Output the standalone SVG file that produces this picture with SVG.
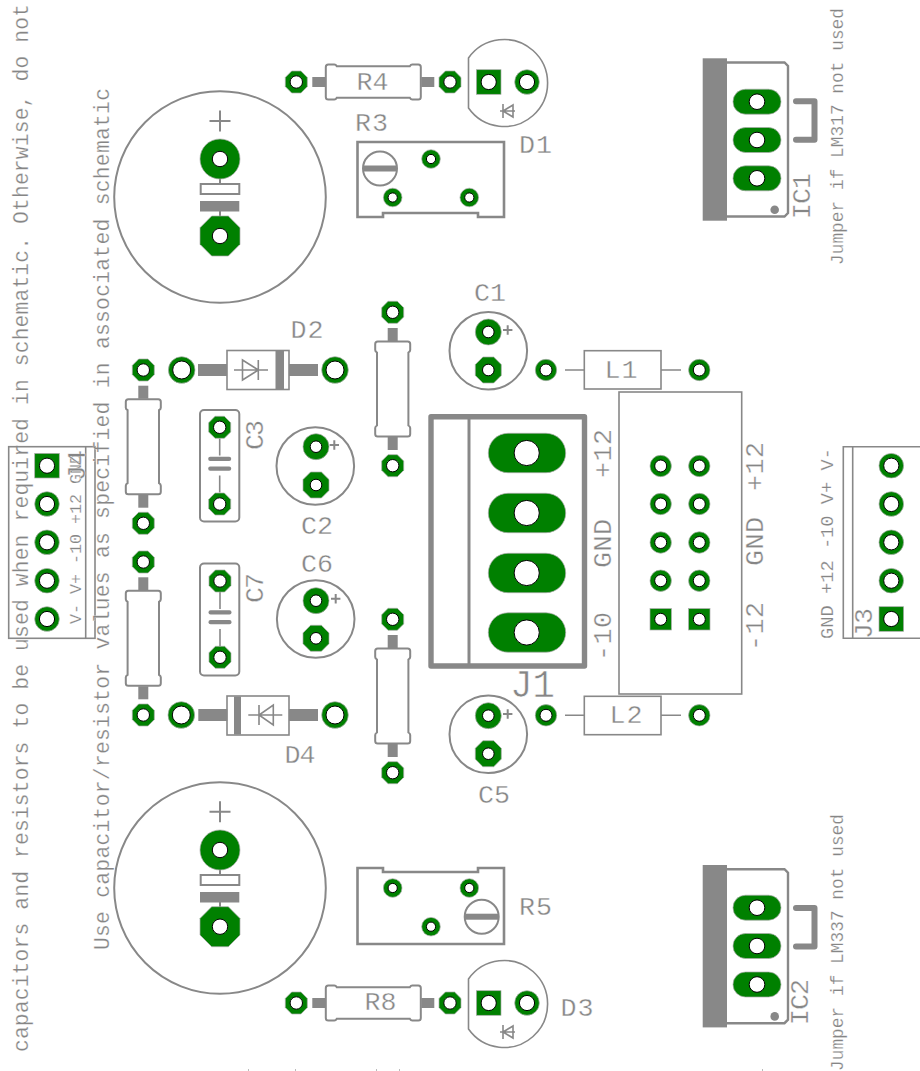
<svg xmlns="http://www.w3.org/2000/svg" width="920" height="1071" viewBox="0 0 920 1071">
<style>
text{font-family:"Liberation Mono","DejaVu Sans Mono",monospace;fill:#868686;font-size:26.7px;stroke:#fff;stroke-width:.35}
.s{font-size:17.8px;stroke-width:.2}.m{font-size:21.4px;stroke-width:.25}
.l{fill:none;stroke:#888;stroke-width:2}
.t{fill:none;stroke:#888;stroke-width:1.6}
.k{fill:none;stroke:#888;stroke-width:5}
.f{fill:#888}
.g{fill:#008000;stroke:#aaa;stroke-width:.7}
.h{fill:#fff;stroke:#000;stroke-width:1}
</style>
<defs>
<g id="o11"><polygon class="g" points="-11,-4.6 -4.6,-11 4.6,-11 11,-4.6 11,4.6 4.6,11 -4.6,11 -11,4.6"/><circle class="h" r="6.2"/></g>
<g id="o13"><polygon class="g" points="-13,-5.4 -5.4,-13 5.4,-13 13,-5.4 13,5.4 5.4,13 -5.4,13 -13,5.4"/><circle class="h" r="5.8"/></g>
<g id="o20"><polygon class="g" points="-20,-8.3 -8.3,-20 8.3,-20 20,-8.3 20,8.3 8.3,20 -8.3,20 -20,8.3"/><circle class="h" r="7.7"/></g>
<g id="r11"><circle class="g" r="10.7"/><circle class="h" r="6"/></g>
<g id="r12"><circle class="g" r="12.3"/><circle class="h" r="7.6"/></g>
<g id="r13"><circle class="g" r="13.3"/><circle class="h" r="9"/></g>
<g id="r13c"><circle class="g" r="13"/><circle class="h" r="5.8"/></g>
<g id="r20"><circle class="g" r="20"/><circle class="h" r="7.7"/></g>
<g id="s11"><rect class="g" x="-10.7" y="-10.7" width="21.4" height="21.4"/><circle class="h" r="6"/></g>
<g id="s12"><rect class="g" x="-12.3" y="-12.3" width="24.6" height="24.6"/><circle class="h" r="7.6"/></g>
<g id="v9"><circle class="g" r="9.3"/><circle class="h" r="4.6"/></g>
<g id="long"><rect class="g" x="-38.7" y="-19.7" width="77.4" height="39.4" rx="19.7"/><circle class="h" cx="-.3" r="12.6"/></g>
<g id="icpad"><rect class="g" x="-24" y="-12.5" width="48" height="25" rx="12.5"/><circle class="h" r="7.8"/></g>
<path id="rb" class="l" d="M-47.5,-15 Q-47.5,-17.5 -45,-17.5 L-39,-17.5 Q-37.5,-17.5 -36.5,-15.7 L36.5,-15.7 Q37.5,-17.5 39,-17.5 L45,-17.5 Q47.5,-17.5 47.5,-15 L47.5,15 Q47.5,17.5 45,17.5 L39,17.5 Q37.5,17.5 36.5,15.7 L-36.5,15.7 Q-37.5,17.5 -39,17.5 L-45,17.5 Q-47.5,17.5 -47.5,15 Z"/>
<g id="res"><use href="#rb"/><rect class="f" x="-61" y="-5" width="13" height="10"/><rect class="f" x="48" y="-5" width="13" height="10"/></g>
<g id="smcap"><circle class="l" r="38.8"/></g>
<g id="plus"><path class="l" d="M-4.7,0 H4.7 M0,-4.7 V4.7"/></g>
<g id="capsym"><path class="t" d="M0,-27 V-10 M0,10 V27"/><rect class="f" x="-11.5" y="-8.7" width="23" height="4.3" rx="2"/><rect class="f" x="-11.5" y="1" width="23" height="4.3" rx="2"/></g>
</defs>
<rect width="920" height="1071" fill="#fff"/>

<g id="notes">
<text class="m" transform="translate(28,1052) rotate(-90)" textLength="1048">capacitors and resistors to be used when required in schematic. Otherwise, do not</text>
</g>

<g id="J4"><rect class="t" x="8.7" y="446.7" width="86.3" height="191.6"/><path class="t" d="M85.7,446.7 V638.3"/>
<use href="#s12" x="47" y="465.7"/><use href="#r12" x="47" y="504"/><use href="#r12" x="47" y="542.3"/><use href="#r12" x="47" y="580.7"/><use href="#r12" x="47" y="619"/>
<text transform="translate(81,624) rotate(-90)" style="font-size:16.7px;stroke-width:.2" textLength="170">V- V+ -10 +12 GND</text>
<text transform="translate(85,481) rotate(-90)" textLength="31">J4</text></g>

<g id="R1"><use href="#res" transform="translate(143.3,446.7) rotate(90)"/><use href="#o11" x="143.3" y="370"/><use href="#o11" x="143.3" y="523.3"/></g>
<g id="R2"><use href="#res" transform="translate(143.3,638.3) rotate(90)"/><use href="#o11" x="143.3" y="562"/><use href="#o11" x="143.3" y="715"/></g>

<g id="C4"><circle class="l" cx="220" cy="197" r="105.8"/><path class="l" d="M209.5,121 H230.5 M220,110.5 V131.5 M220,179 V184 M220,211 V216"/><rect class="l" x="200.7" y="184" width="38.6" height="10"/><rect class="f" x="200" y="201" width="39.3" height="10.5"/><use href="#r20" x="220" y="159"/><use href="#o20" x="220" y="236"/></g>
<g id="C8"><circle class="l" cx="220" cy="888" r="105.8"/><path class="l" d="M209.5,811.7 H230.5 M220,801.2 V822.2 M220,870 V875 M220,902 V907"/><rect class="l" x="200.7" y="875" width="38.6" height="10"/><rect class="f" x="200" y="892" width="39.3" height="10.5"/><use href="#r20" x="220" y="850"/><use href="#o20" x="220" y="926.7"/></g>

<g id="R4"><use href="#res" transform="translate(373.3,82)"/><use href="#o11" x="296.3" y="82"/><use href="#o11" x="450" y="82"/><text x="356.5" y="89.5" textLength="32">R4</text></g>
<g id="R8"><use href="#res" transform="translate(373.3,1003)"/><use href="#o11" x="296.3" y="1003"/><use href="#o11" x="450" y="1003"/><text x="364.5" y="1010" textLength="32">R8</text></g>

<g id="D1"><path class="t" d="M468.5,58 A43.5,43.5 0 1 1 468.5,108 Z"/><path class="t" d="M500,111 H515 M503,104 V118 M513,105 L503,111 L513,117 Z"/><use href="#s12" x="488.7" y="82"/><use href="#r12" x="527" y="82"/><text x="519" y="152.7" textLength="33">D1</text></g>
<g id="D3"><path class="t" d="M468.5,979 A43.5,43.5 0 1 1 468.5,1029 Z"/><path class="t" d="M500,1032 H515 M503,1025 V1039 M513,1026 L503,1032 L513,1038 Z"/><use href="#s12" x="488.7" y="1003"/><use href="#r12" x="527" y="1003"/><text x="560.5" y="1016" textLength="33">D3</text></g>

<g id="R3"><path class="l" style="stroke-width:2.6" d="M357.5,142 H504 V217 H478 V213 H383 V217 H357.5 Z"/><circle class="l" cx="380" cy="168.5" r="17"/><rect class="f" x="363" y="165.5" width="34" height="6"/><use href="#v9" x="431" y="159"/><use href="#v9" x="392.7" y="197.5"/><use href="#v9" x="469.3" y="197.5"/><text x="355" y="131" textLength="33">R3</text></g>
<g id="R5"><path class="l" style="stroke-width:2.6" d="M357.5,944 H504 V868 H478 V872 H383 V868 H357.5 Z"/><circle class="l" cx="481.7" cy="916.7" r="17"/><rect class="f" x="465" y="913.7" width="34" height="6"/><use href="#v9" x="392.7" y="888"/><use href="#v9" x="469.3" y="888"/><use href="#v9" x="431" y="926.7"/><text x="519" y="915" textLength="33">R5</text></g>

<g id="D2"><rect class="t" x="227" y="350.5" width="62" height="39"/><rect class="f" x="275.5" y="351" width="8.5" height="38"/><rect class="f" x="198" y="364" width="29" height="12"/><rect class="f" x="289" y="364" width="29" height="12"/><path class="t" d="M234,370 H268 M258.3,360 V380 M242.5,360 V380 L258.3,370 Z"/><use href="#r13" x="181.7" y="370"/><use href="#r13" x="335" y="370"/><text x="290.5" y="338" textLength="33">D2</text></g>
<g id="D4"><rect class="t" x="227" y="696" width="62" height="39"/><rect class="f" x="234" y="696.5" width="7" height="38"/><rect class="f" x="198.3" y="709" width="29" height="12"/><rect class="f" x="289" y="709" width="29" height="12"/><path class="t" d="M248.3,715 H282.3 M259,705 V725 M273.3,705 V725 L259,715 Z"/><use href="#r13" x="181.3" y="715"/><use href="#r13" x="335" y="715"/><text x="284.5" y="762.7" textLength="31">D4</text></g>

<g id="C3"><rect class="l" x="200" y="410" width="39.3" height="111.5" rx="4"/><use href="#capsym" x="219.7" y="465.5"/><use href="#o11" x="219.7" y="427.3"/><use href="#o11" x="219.7" y="504"/><text transform="translate(263,450) rotate(-90)" textLength="30">C3</text></g>
<g id="C7"><rect class="l" x="200" y="563.5" width="39.3" height="112" rx="4"/><use href="#capsym" x="220" y="619"/><use href="#o11" x="220" y="581"/><use href="#o11" x="220" y="657.3"/><text transform="translate(263.3,603) rotate(-90)" textLength="30">C7</text></g>

<g id="C2"><use href="#smcap" x="315.3" y="466"/><use href="#plus" x="334.3" y="445"/><use href="#r13c" x="316" y="446.7"/><use href="#o13" x="316" y="485"/><text x="301" y="534.3" textLength="32">C2</text></g>
<g id="C6"><use href="#smcap" x="315.7" y="619"/><use href="#plus" x="335.7" y="598.7"/><use href="#r13c" x="316" y="600.7"/><use href="#o13" x="316" y="638.3"/><text x="301" y="572.3" textLength="32">C6</text></g>
<g id="C1"><use href="#smcap" x="488.3" y="350.7"/><use href="#plus" x="507.7" y="330"/><use href="#r13c" x="488.3" y="332"/><use href="#o13" x="488.3" y="370"/><text x="474" y="301" textLength="32">C1</text></g>
<g id="C5"><use href="#smcap" x="488.3" y="734.3"/><use href="#plus" x="507.7" y="714"/><use href="#r13c" x="488.3" y="715.7"/><use href="#o13" x="488.3" y="753.7"/><text x="478" y="802.7" textLength="32">C5</text></g>

<g id="R6"><use href="#res" transform="translate(392.7,389) rotate(90)"/><use href="#o11" x="392.7" y="312.3"/><use href="#o11" x="392.7" y="465.7"/></g>
<g id="R7"><use href="#res" transform="translate(392.7,696) rotate(90)"/><use href="#o11" x="392.7" y="619.3"/><use href="#o11" x="392.7" y="772.7"/></g>

<g id="L1"><rect class="t" x="584.3" y="350.7" width="76.7" height="38.3"/><path class="t" d="M565,370 H584 M661,370 H681"/><use href="#r11" x="546" y="370"/><use href="#r11" x="699.3" y="370"/><text x="604.5" y="377.7" textLength="33">L1</text></g>
<g id="L2"><rect class="t" x="584.3" y="696.3" width="76.7" height="38.4"/><path class="t" d="M565,715.3 H584 M661,715.3 H681"/><use href="#r11" x="546" y="715.3"/><use href="#r11" x="699.3" y="715.3"/><text x="609.5" y="723.3" textLength="33">L2</text></g>

<g id="J1"><rect class="k" x="431" y="416.7" width="153.5" height="249.3" stroke-linejoin="round" style="stroke-width:5.4"/><path class="l" style="stroke-width:3" d="M469,417 V666"/>
<use href="#long" x="527" y="453"/><use href="#long" x="527" y="513"/><use href="#long" x="527" y="573"/><use href="#long" x="527" y="632.5"/>
<text x="510" y="697" style="font-size:38px;stroke-width:.6" textLength="45">J1</text>
<text transform="translate(611,478) rotate(-90)" textLength="49">+12</text><text transform="translate(611,568) rotate(-90)" textLength="49">GND</text><text transform="translate(611,661) rotate(-90)" textLength="49">-10</text></g>

<g id="JP1"><rect class="t" x="619" y="392" width="122.7" height="302"/>
<use href="#r11" x="660.7" y="466"/><use href="#r11" x="699.3" y="466"/><use href="#r11" x="660.7" y="504"/><use href="#r11" x="699.3" y="504"/><use href="#r11" x="660.7" y="542.5"/><use href="#r11" x="699.3" y="542.5"/><use href="#r11" x="660.7" y="580.7"/><use href="#r11" x="699.3" y="580.7"/><use href="#s11" x="660.7" y="619.3"/><use href="#s11" x="699.3" y="619.3"/>
<text transform="translate(763,491) rotate(-90)" textLength="49">+12</text><text transform="translate(763,566) rotate(-90)" textLength="49">GND</text><text transform="translate(763,651) rotate(-90)" textLength="49">-12</text></g>

<g id="IC1"><rect class="f" x="702.7" y="58.3" width="24.3" height="162.4"/><path class="l" style="stroke-width:2.4" d="M727,62.5 H784.5 L788,66 V213 L784.5,216.5 H727"/><circle class="f" cx="774.7" cy="209.7" r="4.3"/><use href="#icpad" x="757" y="101.7"/><use href="#icpad" x="757" y="140"/><use href="#icpad" x="757" y="178.3"/><path class="l" style="stroke-width:6;stroke-linecap:round;stroke-linejoin:round" d="M796,101.3 H814.5 V139.7 H796"/><text transform="translate(810,219) rotate(-90)" textLength="46">IC1</text><text class="s" transform="translate(843,265) rotate(-90)" textLength="257">Jumper if LM317 not used</text></g>
<g id="IC2"><rect class="f" x="702.7" y="865" width="24.3" height="162.4"/><path class="l" style="stroke-width:2.4" d="M727,869.2 H784.5 L788,872.7 V1019.7 L784.5,1023.2 H727"/><circle class="f" cx="774.7" cy="1016.4" r="4.3"/><use href="#icpad" x="757" y="907.7"/><use href="#icpad" x="757" y="946"/><use href="#icpad" x="757" y="984.5"/><path class="l" style="stroke-width:6;stroke-linecap:round;stroke-linejoin:round" d="M796,908 H814.5 V946.4 H796"/><text transform="translate(808,1025) rotate(-90)" textLength="46">IC2</text><text class="s" transform="translate(843,1071) rotate(-90)" textLength="257">Jumper if LM337 not used</text></g>

<g id="J3"><path class="t" d="M920,446.7 H843.3 V638.3 H920 M852.7,446.7 V638.3"/>
<use href="#r12" x="891.3" y="465.7"/><use href="#r12" x="891.3" y="504"/><use href="#r12" x="891.3" y="542.3"/><use href="#r12" x="891.3" y="580.7"/><use href="#s12" x="891.3" y="619"/>
<text transform="translate(832.7,639) rotate(-90)" style="font-size:18.7px;stroke-width:.2" textLength="191">GND +12 -10 V+ V-</text>
<text transform="translate(871.7,639) rotate(-90)" textLength="31">J3</text></g>

<g id="notes2"><text class="m" transform="translate(109,950) rotate(-90)" textLength="862">Use capacitor/resistor values as specified in associated schematic</text></g>

<g id="edge-marks" fill="#bbb"><rect x="248" y="1069" width="1" height="2"/><rect x="295" y="1069" width="1" height="2"/><rect x="376" y="1069" width="1" height="2"/><rect x="399" y="1069" width="1" height="2"/><rect x="762" y="1069" width="1" height="2"/></g>
</svg>
